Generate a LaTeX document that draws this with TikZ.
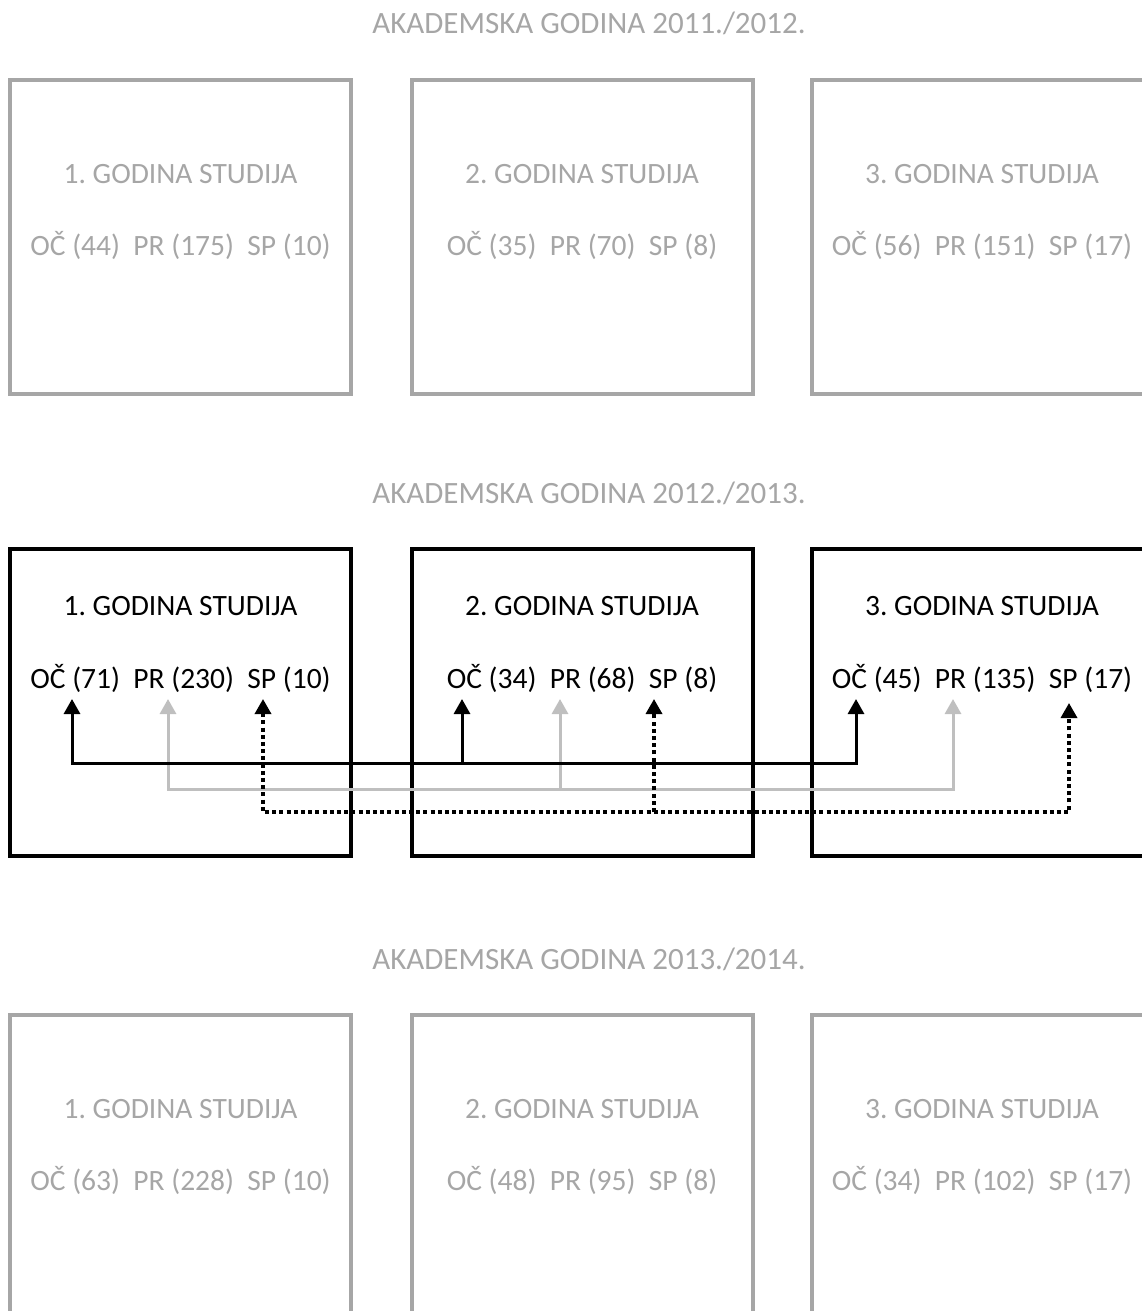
\documentclass[tikz,border=0pt]{standalone}
\usepackage{fontspec}
\setmainfont{Carlito}
\usetikzlibrary{arrows.meta}
\definecolor{boxgray}{HTML}{A6A6A6}
\definecolor{txtgray}{HTML}{A6A6A6}
\definecolor{linegray}{HTML}{BFBFBF}
\frenchspacing
\begin{document}
\begin{tikzpicture}[x=1pt,y=-1pt,
  every node/.style={font=\fontsize{29.5}{35}\selectfont, inner sep=0pt, outer sep=0pt},
  yearbox/.style={rectangle, line width=3.6pt, minimum width=341pt, anchor=north west},
  graybox/.style={yearbox, draw=boxgray, minimum height=314pt},
  blackbox/.style={yearbox, draw=black, minimum height=307pt},
  graytxt/.style={anchor=base, text=txtgray},
  blacktxt/.style={anchor=base, text=black},
  yeartitle/.style={anchor=base, text=txtgray, font=\fontsize{31}{37}\selectfont},
  tip/.style={-{Triangle[width=16pt,length=15pt]}},
  tips/.style={{Triangle[width=16pt,length=15pt]}-{Triangle[width=16pt,length=15pt]}},
  ocline/.style={draw=black, line width=3pt},
  prline/.style={draw=linegray, line width=3pt},
  spline/.style={draw=black, line width=3.4pt, dash pattern=on 4pt off 3.2pt}
]
\useasboundingbox (0,0) rectangle (1142,1311);

% ---------- Row 1: 2011./2012.
\node[yeartitle] (s1) at (589,34) {AKADEMSKA GODINA 2011./2012.};
\node[graybox] (b11) at (10,80) {};
\node[graybox] (b12) at (412,80) {};
\node[graybox] (b13) at (812,80) {};
\node[graytxt] (t11) at (180.5,183.5) {1. GODINA STUDIJA};
\node[graytxt] (t12) at (582,183.5) {2. GODINA STUDIJA};
\node[graytxt] (t13) at (982,183.5) {3. GODINA STUDIJA};
\node[graytxt] (v11) at (180.5,255.5) {OČ (44)~~PR (175)~~SP (10)};
\node[graytxt] (v12) at (582,255.5) {OČ (35)~~PR (70)~~SP (8)};
\node[graytxt] (v13) at (982,255.5) {OČ (56)~~PR (151)~~SP (17)};

% ---------- Row 2: 2012./2013.
\node[yeartitle] (s2) at (589,503) {AKADEMSKA GODINA 2012./2013.};
\node[blackbox] (b21) at (10,549) {};
\node[blackbox] (b22) at (412,549) {};
\node[blackbox] (b23) at (812,549) {};
\node[blacktxt] (t21) at (180.5,615.5) {1. GODINA STUDIJA};
\node[blacktxt] (t22) at (582,615.5) {2. GODINA STUDIJA};
\node[blacktxt] (t23) at (982,615.5) {3. GODINA STUDIJA};
\node[blacktxt] (v21) at (180.5,688.5) {OČ (71)~~PR (230)~~SP (10)};
\node[blacktxt] (v22) at (582,688.5) {OČ (34)~~PR (68)~~SP (8)};
\node[blacktxt] (v23) at (982,688.5) {OČ (45)~~PR (135)~~SP (17)};

% connector points
\coordinate (ocT1) at (72,699);   \coordinate (ocB1) at (72,763);
\coordinate (ocT2) at (462,699);  \coordinate (ocB2) at (462,763);
\coordinate (ocT3) at (856,699);  \coordinate (ocB3) at (856,763);
\coordinate (prT1) at (168,699);  \coordinate (prB1) at (168,789);
\coordinate (prT2) at (560,699);  \coordinate (prB2) at (560,789);
\coordinate (prT3) at (953,699);  \coordinate (prB3) at (953,789);
\coordinate (spT1) at (263,699);  \coordinate (spB1) at (263,812);
\coordinate (spT2) at (654,699);  \coordinate (spB2) at (654,812);
\coordinate (spT3) at (1069,703); \coordinate (spB3) at (1069,812);

\draw[prline, tips] (prT1) -- (prB1) -- (prB3) -- (prT3);
\draw[prline, tip] (prB2) -- (prT2);
\draw[spline, tips] (spT1) -- (spB1) -- (spB3) -- (spT3);
\draw[spline, tip] (spB2) -- (spT2);
\draw[ocline, tips] (ocT1) -- (ocB1) -- (ocB3) -- (ocT3);
\draw[ocline, tip] (ocB2) -- (ocT2);

% ---------- Row 3: 2013./2014.
\node[yeartitle] (s3) at (589,969) {AKADEMSKA GODINA 2013./2014.};
\node[graybox] (b31) at (10,1015) {};
\node[graybox] (b32) at (412,1015) {};
\node[graybox] (b33) at (812,1015) {};
\node[graytxt] (t31) at (180.5,1118.5) {1. GODINA STUDIJA};
\node[graytxt] (t32) at (582,1118.5) {2. GODINA STUDIJA};
\node[graytxt] (t33) at (982,1118.5) {3. GODINA STUDIJA};
\node[graytxt] (v31) at (180.5,1190.5) {OČ (63)~~PR (228)~~SP (10)};
\node[graytxt] (v32) at (582,1190.5) {OČ (48)~~PR (95)~~SP (8)};
\node[graytxt] (v33) at (982,1190.5) {OČ (34)~~PR (102)~~SP (17)};
\end{tikzpicture}
\end{document}
